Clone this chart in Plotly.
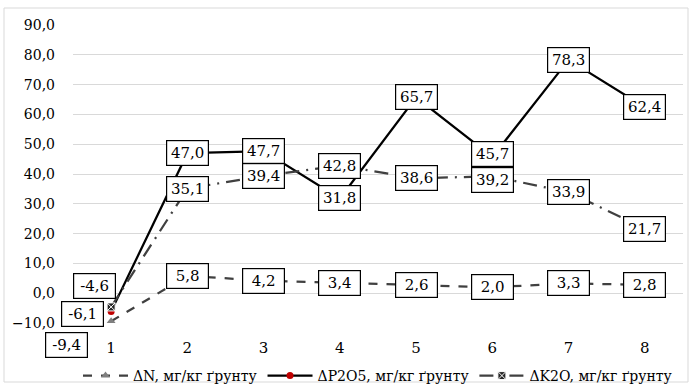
import plotly.graph_objects as go

categories = ["1", "2", "3", "4", "5", "6", "7", "8"]
dN = [-9.4, 5.8, 4.2, 3.4, 2.6, 2.0, 3.3, 2.8]
dP2O5 = [-6.1, 47.0, 47.7, 31.8, 65.7, 45.7, 78.3, 62.4]
dK2O = [-4.6, 35.1, 39.4, 42.8, 38.6, 39.2, 33.9, 21.7]
names = ["ΔN, мг/кг ґрунту", "ΔP2O5, мг/кг ґрунту", "ΔK2O, мг/кг ґрунту"]
y_ticks = [-10, 0, 10, 20, 30, 40, 50, 60, 70, 80, 90]

FONT = "DejaVu Serif, Liberation Serif, serif"
W, H = 691, 385
L, R, T, B = 73, 8, 25, 62
pw, ph = W - L - R, H - T - B

fig = go.Figure()
fig.add_trace(go.Scatter(
    x=categories, y=dN, name=names[0], mode="lines+markers",
    line=dict(color="#404040", width=2.25, dash="dash"),
    marker=dict(symbol="triangle-up", size=8, color="#7f7f7f"),
))
fig.add_trace(go.Scatter(
    x=categories, y=dP2O5, name=names[1], mode="lines+markers",
    line=dict(color="#000000", width=2.25),
    marker=dict(symbol="circle", size=7, color="#c00000"),
))
fig.add_trace(go.Scatter(
    x=categories, y=dK2O, name=names[2], mode="lines+markers",
    line=dict(color="#404040", width=2.25, dash="14px,7px,2px,7px"),
    marker=dict(symbol="square-x", size=8, color="#262626",
                line=dict(color="#ffffff", width=1)),
))

shifts = {(0, 0): (-45, -24), (1, 0): (-29, -3), (2, 0): (-17, 21),
          (1, 5): (0, 3), (2, 5): (0, -4)}

annotations = []
for si, series in enumerate([dN, dP2O5, dK2O]):
    for i, v in enumerate(series):
        xs, ys = shifts.get((si, i), (0, 0))
        annotations.append(dict(
            x=i, y=v, xref="x", yref="y",
            text=f"{v:.1f}".replace(".", ","),
            showarrow=False, xshift=xs, yshift=ys,
            font=dict(family=FONT, size=15, color="#000000"),
            bgcolor="#ffffff", bordercolor="#000000", borderwidth=1.2,
            borderpad=3, width=35, height=18, align="center",
        ))

fig.update_layout(
    width=W, height=H,
    margin=dict(l=L, r=R, t=T, b=B, autoexpand=False),
    paper_bgcolor="#ffffff", plot_bgcolor="#ffffff",
    separators=", ",
    font=dict(family=FONT, size=15, color="#000000"),
    showlegend=True,
    legend=dict(orientation="h", x=0.5, xanchor="center",
                y=(T + ph - 360) / ph, yanchor="top",
                font=dict(family=FONT, size=14, color="#000000"),
                itemwidth=45, tracegroupgap=0, bgcolor="rgba(0,0,0,0)"),
    annotations=annotations,
    shapes=[dict(type="rect", xref="paper", yref="paper",
                 x0=(4 - L) / pw, x1=(688 - L) / pw,
                 y0=(T + ph - 382) / ph, y1=(T + ph - 8) / ph,
                 line=dict(color="#d9d9d9", width=1), layer="below")],
)
fig.update_xaxes(type="category", categoryorder="array", categoryarray=categories,
                 range=[-0.5, len(categories) - 0.5], automargin=False,
                 showgrid=False, showline=False, zeroline=False,
                 ticks="", tickfont=dict(family=FONT, size=15), ticklabelstandoff=14)
fig.update_yaxes(range=[-10, 90], tickvals=y_ticks, tickformat=".1f", automargin=False,
                 showgrid=True, gridcolor="#d9d9d9", gridwidth=1,
                 zeroline=False, showline=False, ticks="",
                 tickfont=dict(family=FONT, size=14), ticklabelstandoff=17)

fig.write_html("out.html", config={"displayModeBar": False},
               post_script="document.body.style.margin='0';document.body.style.padding='0';")
